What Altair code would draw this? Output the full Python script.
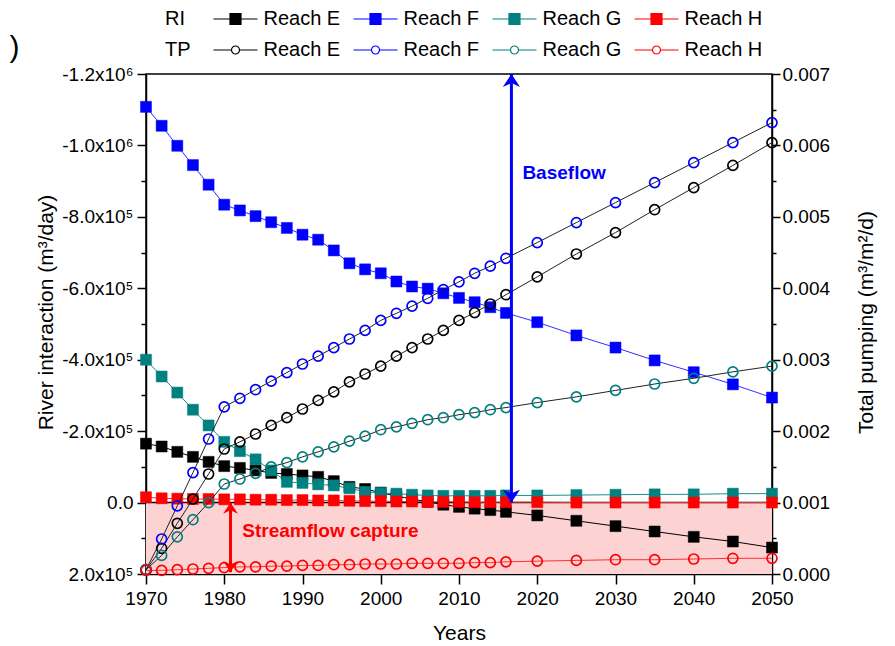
import altair as alt
import pandas as pd

years = [1970, 1972, 1974, 1976, 1978, 1980, 1982, 1984, 1986, 1988, 1990, 1992,
         1994, 1996, 1998, 2000, 2002, 2004, 2006, 2008, 2010, 2012, 2014, 2016,
         2020, 2025, 2030, 2035, 2040, 2045, 2050]
reaches = ["Reach E", "Reach F", "Reach G", "Reach H"]

# River interaction (x1e5 m3/day; negative = gaining)
ri_e = [-1.65, -1.57, -1.42, -1.28, -1.14, -1.02, -0.97, -0.90, -0.83, -0.80, -0.76, -0.72,
        -0.60, -0.44, -0.38, -0.28, -0.18, -0.10, -0.02, 0.06, 0.12, 0.17, 0.21, 0.26,
        0.36, 0.51, 0.66, 0.81, 0.96, 1.09, 1.26]
ri_f = [-11.08, -10.55, -9.99, -9.45, -8.90, -8.34, -8.18, -8.02, -7.85, -7.69, -7.50, -7.36,
        -7.06, -6.70, -6.53, -6.42, -6.19, -6.05, -5.99, -5.86, -5.73, -5.61, -5.47, -5.31,
        -5.05, -4.68, -4.34, -3.98, -3.65, -3.31, -2.94]
ri_g = [-4.00, -3.53, -3.08, -2.60, -2.16, -1.70, -1.44, -1.21, -0.90, -0.58, -0.55, -0.51,
        -0.48, -0.40, -0.30, -0.27, -0.25, -0.22, -0.20, -0.19, -0.19, -0.19, -0.19, -0.20,
        -0.20, -0.21, -0.22, -0.23, -0.23, -0.25, -0.25]
ri_h = [-0.15, -0.12, -0.11, -0.10, -0.10, -0.09, -0.09, -0.08, -0.08, -0.07, -0.07, -0.06,
        -0.06, -0.05, -0.04, -0.04, -0.03, -0.03, -0.02, -0.02, -0.02, -0.01, -0.01, -0.01,
        -0.01, 0.0, 0.0, 0.0, 0.0, 0.0, 0.0]

# Total pumping (x1e-3 m3/m2/d)
tp_e = [0.06, 0.36, 0.71, 1.05, 1.40, 1.75, 1.85, 1.96, 2.08, 2.19, 2.31, 2.43,
        2.55, 2.69, 2.80, 2.91, 3.05, 3.17, 3.29, 3.41, 3.55, 3.66, 3.78, 3.91,
        4.16, 4.48, 4.78, 5.10, 5.41, 5.72, 6.04]
tp_f = [0.06, 0.49, 0.955, 1.42, 1.89, 2.34, 2.46, 2.58, 2.70, 2.82, 2.94, 3.05,
        3.17, 3.29, 3.41, 3.55, 3.65, 3.75, 3.86, 3.98, 4.09, 4.21, 4.31, 4.42,
        4.64, 4.92, 5.20, 5.48, 5.76, 6.04, 6.32]
tp_g = [0.06, 0.26, 0.52, 0.76, 1.00, 1.26, 1.33, 1.41, 1.50, 1.56, 1.64, 1.71,
        1.78, 1.86, 1.93, 2.02, 2.06, 2.11, 2.16, 2.19, 2.23, 2.26, 2.30, 2.33,
        2.40, 2.48, 2.57, 2.66, 2.74, 2.83, 2.91]
tp_h = [0.05, 0.05, 0.06, 0.07, 0.08, 0.09, 0.10, 0.10, 0.11, 0.11, 0.12, 0.12,
        0.13, 0.13, 0.14, 0.14, 0.14, 0.15, 0.15, 0.15, 0.15, 0.16, 0.16, 0.17,
        0.18, 0.19, 0.20, 0.20, 0.21, 0.22, 0.22]

point_colors = ["#000000", "#0000ff", "#008080", "#ff0000"]
ri_line_colors = ["#000000", "#3030ff", "#1a9090", "#ff3030"]
tp_line_colors = ["#222222", "#222222", "#222222", "#ff3030"]

# annotation values
baseflow_year = 2016.7
capture_year = 1980.8
shade_x = [1970, 2050]
shade_y = [0, 200000]

rows = []
for r, ri, tp in zip(reaches, [ri_e, ri_f, ri_g, ri_h], [tp_e, tp_f, tp_g, tp_h]):
    for yr, a, b in zip(years, ri, tp):
        rows.append({"year": yr, "reach": r, "ri": a * 1e5, "tp": b * 1e-3})
df = pd.DataFrame(rows)

FONT = "Liberation Sans"
W, H = 626, 500

x_scale = alt.Scale(domain=[1970, 2050], nice=False, zero=False, padding=0)
x_axis = alt.Axis(values=list(range(1970, 2051, 10)), format="d", title="Years",
                  tickSize=10, labelPadding=5, titlePadding=14, grid=False, labelFlush=False)

def xq(field):
    return alt.X(field, type="quantitative", scale=x_scale, axis=x_axis)

YL_DOMAIN = [-1200000, 200000]
left_label = ("datum.value == 0 ? '0.0' : (datum.value % 200000 != 0 ? '' : "
              "((datum.value < 0 ? '-' : '') + format(abs(datum.value) / (abs(datum.value) >= 1000000 ? 1000000 : 100000), '.1f')"
              " + (abs(datum.value) >= 1000000 ? 'x10\u2076' : 'x10\u2075')))")
left_axis = alt.Axis(orient="left", values=list(range(-1200000, 200001, 100000)),
                     labelExpr=left_label, title="River interaction (m\u00b3/day)",
                     tickSize={"condition": {"test": "datum.value % 200000 == 0", "value": 9}, "value": 5},
                     labelPadding=4, grid=False, labelFlush=False,
                     titleX=-100, titleY=238, titleBaseline="middle")

major_r = "abs(datum.value*1000 - round(datum.value*1000)) < 0.000001"
right_axis = alt.Axis(orient="right", values=[i * 0.0005 for i in range(15)],
                      labelExpr=f"{major_r} ? format(datum.value, '.3f') : ''",
                      title="Total pumping (m\u00b3/m\u00b2/d)",
                      tickSize={"condition": {"test": major_r, "value": 8}, "value": 4},
                      labelPadding=2, grid=False, labelFlush=False, titleAngle=270,
                      titleX=94, titleY=248, titleBaseline="middle")

def yl(field, axis=None):
    return alt.Y(field, type="quantitative",
                 scale=alt.Scale(domain=YL_DOMAIN, reverse=True, nice=False, zero=False, padding=0),
                 axis=axis)

def yr(field, axis=None):
    return alt.Y(field, type="quantitative",
                 scale=alt.Scale(domain=[0, 0.007], nice=False, zero=False, padding=0),
                 axis=axis)

# shaded capture zone (carries left axis)
shade_df = pd.DataFrame({"x": [shade_x[0]], "x2": [shade_x[1]], "y": [shade_y[0]], "y2": [shade_y[1]]})
shade = alt.Chart(shade_df).mark_rect(color="#fdd2d2").encode(
    x=xq("x"), x2="x2:Q", y=yl("y", left_axis), y2="y2:Q")

zero_df = pd.DataFrame({"y": [0]})
zero_line = alt.Chart(zero_df).mark_rule(color="black", strokeWidth=1.5).encode(y=yl("y"))

ri_lines = alt.Chart(df).mark_line(strokeWidth=1).encode(
    x=xq("year"), y=yl("ri"),
    color=alt.Color("reach:N", scale=alt.Scale(domain=reaches, range=ri_line_colors), legend=None))

LEG_SIZE = 400  # symbol scale = sqrt(size)/2 = 10 px per path unit
ri_sym = "M-2.2,0H2.2M-0.55,-0.55H0.55V0.55H-0.55Z"
common_leg = dict(orient="none", legendX=19, direction="horizontal", titleOrient="left",
                  symbolSize=LEG_SIZE, symbolStrokeWidth=1.2, symbolOffset=11.5,
                  labelFontSize=20, titleFontSize=20, titleFontWeight="normal",
                  columnPadding=10, labelOffset=17, titleAnchor="middle", titleBaseline="middle")
ri_legend = alt.Legend(title="RI", legendY=-66, symbolType=ri_sym, titlePadding=28, **common_leg)
ri_points = alt.Chart(df).mark_point(shape="square", filled=True, size=121, opacity=1, strokeWidth=0.5).encode(
    x=xq("year"), y=yl("ri"),
    fill=alt.Fill("reach:N", scale=alt.Scale(domain=reaches, range=point_colors), legend=ri_legend),
    stroke=alt.Stroke("reach:N", scale=alt.Scale(domain=reaches, range=point_colors), legend=ri_legend))

tp_lines = alt.Chart(df).mark_line(strokeWidth=1).encode(
    x=xq("year"), y=yr("tp"),
    stroke=alt.Stroke("reach:N", scale=alt.Scale(domain=reaches, range=tp_line_colors), legend=None))
tp_sym = "M-2.2,0H-0.42M0.42,0H2.2M0.4,0A0.4,0.4,0,1,1,-0.4,0A0.4,0.4,0,1,1,0.4,0Z"
tp_legend = alt.Legend(title="TP", legendY=-35, symbolType=tp_sym, titlePadding=22, **common_leg)
tp_points = alt.Chart(df).mark_point(shape="circle", filled=False, size=100, strokeWidth=1.7, opacity=1).encode(
    x=xq("year"), y=yr("tp", right_axis),
    color=alt.Color("reach:N", scale=alt.Scale(domain=reaches, range=point_colors), legend=tp_legend))

# arrows
up_head = "M0,0L1,1.5L0,1.05L-1,1.5Z"
down_head = "M0,0L1,-1.5L0,-1.05L-1,-1.5Z"
blue_df = pd.DataFrame({"x": [baseflow_year], "y": [-1200000], "y2": [0]})
red_df = pd.DataFrame({"x": [capture_year], "y": [0], "y2": [195000]})

def arrow(d, color, size):
    line = alt.Chart(d).mark_rule(color=color, strokeWidth=3).encode(x=xq("x"), y=yl("y"), y2="y2:Q")
    top = alt.Chart(d).mark_point(shape=up_head, filled=True, color=color, size=size, opacity=1).encode(
        x=xq("x"), y=yl("y"))
    bot = alt.Chart(d).mark_point(shape=down_head, filled=True, color=color, size=size, opacity=1).encode(
        x=xq("x"), y=yl("y2"))
    return [line, top, bot]

label_df = pd.DataFrame({
    "x": [2018.1, 1982.3],
    "y": [-924000, 80000],
    "t": ["Baseflow", "Streamflow capture"],
    "c": ["#0000ff", "#ff0000"],
})
labels = alt.Chart(label_df).mark_text(align="left", baseline="middle", fontWeight="bold",
                                       fontSize=19, font=FONT).encode(
    x=xq("x"), y=yl("y"), text="t:N", color=alt.Color("c:N", scale=None))

paren_df = pd.DataFrame({"x": [1953.2], "y": [-1272800], "t": [")"]})
paren = alt.Chart(paren_df).mark_text(fontSize=30, font=FONT, color="black").encode(
    x=xq("x"), y=yl("y"), text="t:N")

chart = alt.layer(
    shade, zero_line, ri_lines, ri_points, tp_lines, tp_points,
    *arrow(blue_df, "#0000ff", 300), *arrow(red_df, "#ff0000", 220), labels, paren
).resolve_scale(
    y="independent", color="independent", stroke="independent", fill="independent"
).properties(
    width=W, height=H,
    autosize=alt.AutoSizeParams(type="none"),
    padding={"left": 138, "top": 66, "right": 110, "bottom": 70},
).configure_view(stroke="black", strokeWidth=1.5).configure_axis(
    labelFont=FONT, titleFont=FONT, labelFontSize=19, titleFontSize=21, titleFontWeight="normal",
    labelColor="black", titleColor="black", tickColor="black", domainColor="black",
    tickWidth=1.5, domainWidth=1.5
).configure_legend(labelFont=FONT, titleFont=FONT, labelColor="black", titleColor="black")

chart.save("out.html", embed_options={"renderer": "svg", "actions": False})
